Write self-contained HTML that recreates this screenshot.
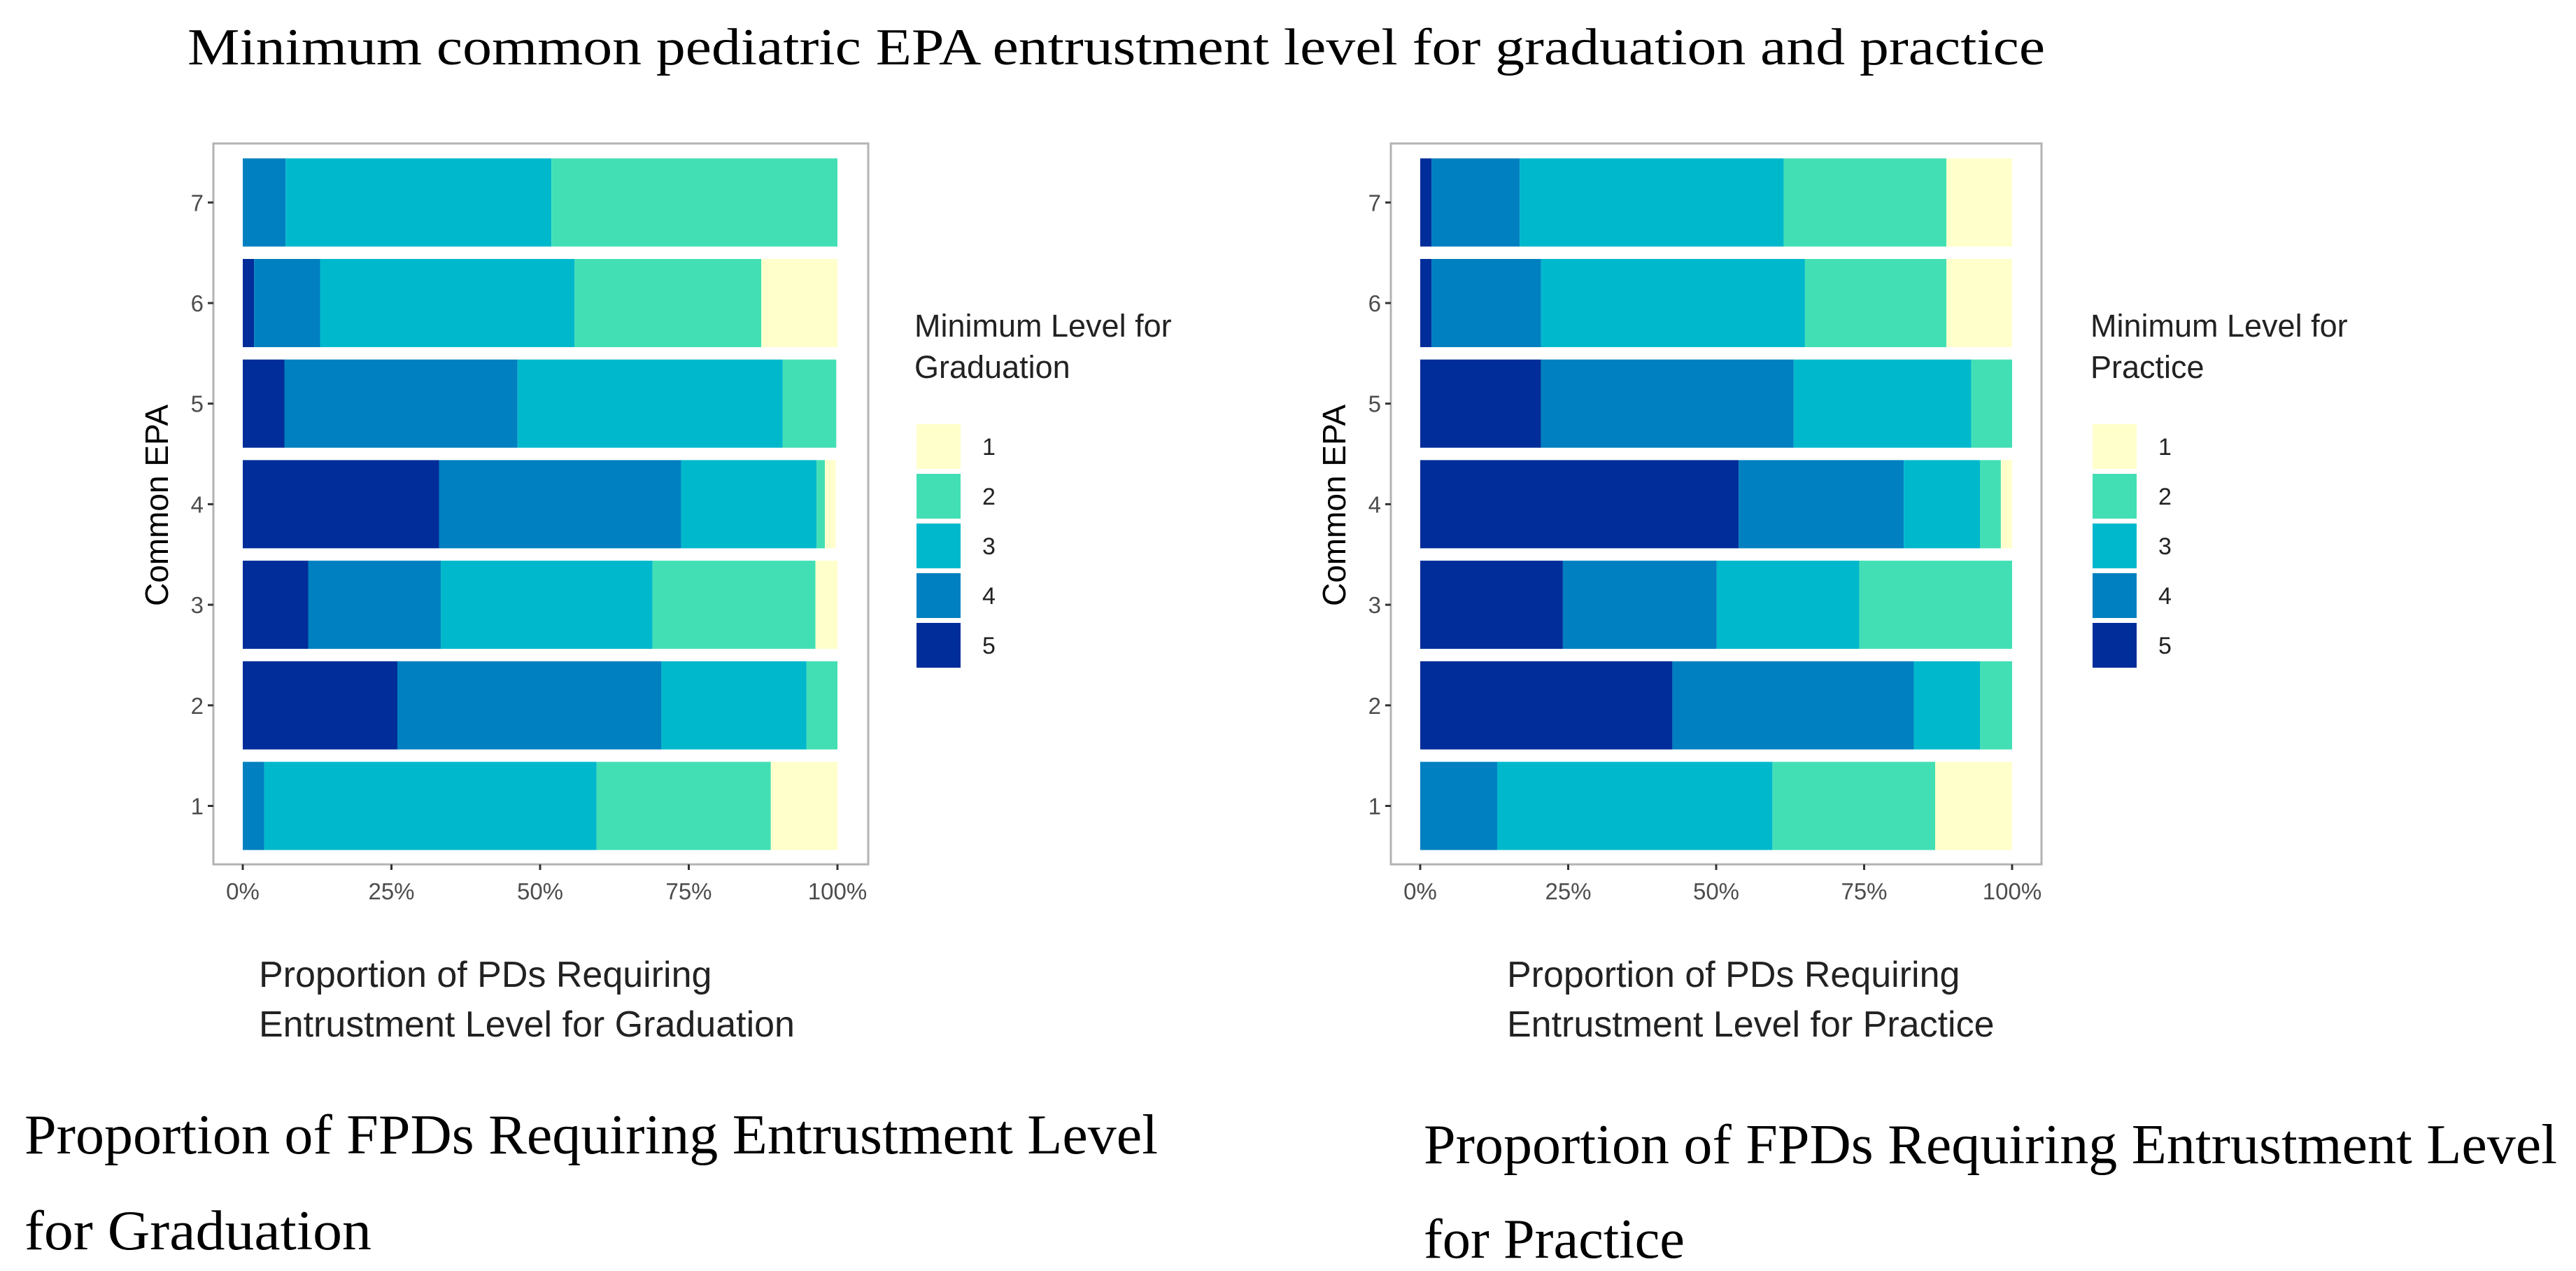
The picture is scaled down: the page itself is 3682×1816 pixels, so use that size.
<!DOCTYPE html>
<html><head><meta charset="utf-8">
<style>html,body{margin:0;padding:0;background:#fff}svg{display:block}</style></head>
<body>
<svg id="fig" width="3682" height="1816" viewBox="0 0 3682 1816" xmlns="http://www.w3.org/2000/svg">
<text x="268" y="92" font-family="Liberation Serif, serif" font-size="74" fill="#000" textLength="2655" lengthAdjust="spacingAndGlyphs">Minimum common pediatric EPA entrustment level for graduation and practice</text>
<g id="left"></g>
<g id="right"></g>
<text x="35" y="1648" font-family="Liberation Serif, serif" font-size="80" fill="#000" textLength="1620" lengthAdjust="spacingAndGlyphs">Proportion of FPDs Requiring Entrustment Level</text>
<text x="35" y="1785" font-family="Liberation Serif, serif" font-size="80" fill="#000" textLength="496" lengthAdjust="spacingAndGlyphs">for Graduation</text>
<text x="2035" y="1662" font-family="Liberation Serif, serif" font-size="80" fill="#000" textLength="1620" lengthAdjust="spacingAndGlyphs">Proportion of FPDs Requiring Entrustment Level</text>
<text x="2035" y="1797" font-family="Liberation Serif, serif" font-size="80" fill="#000" textLength="373" lengthAdjust="spacingAndGlyphs">for Practice</text>
</svg>
<script>
const categories = ["1","2","3","4","5","6","7"];
const levels = ["5","4","3","2","1"];
const xTicks = [0,25,50,75,100];
const xTickLabels = ["0%","25%","50%","75%","100%"];
const legendLevels = ["1","2","3","4","5"];
const colors = {"1":"#ffffcc","2":"#43dfb4","3":"#00b8cc","4":"#0080c0","5":"#002d9a"};
// Graduation (EPA 1..7)
const gradL5 = [0,26,11,33,7,1.9,0];
const gradL4 = [3.6,44.4,22.3,40.7,39.2,11.1,7.2];
const gradL3 = [55.9,24.4,35.6,22.8,44.6,42.8,44.7];
const gradL2 = [29.3,5.2,27.4,1.4,9,31.4,48.1];
const gradL1 = [11.2,0,3.7,1.8,0,12.8,0];
// Practice (EPA 1..7)
const pracL5 = [0,42.6,24.1,53.8,20.4,1.9,1.9];
const pracL4 = [13,40.8,26,27.9,42.7,18.5,14.9];
const pracL3 = [46.5,11.2,24.1,12.9,30,44.6,44.6];
const pracL2 = [27.5,5.4,25.8,3.5,6.9,23.9,27.5];
const pracL1 = [13,0,0,1.9,0,11.1,11.1];

const NS="http://www.w3.org/2000/svg";
function mk(parent,tag,attrs,text){const e=document.createElementNS(NS,tag);for(const k in attrs)e.setAttribute(k,attrs[k]);if(text!==undefined)e.textContent=text;parent.appendChild(e);return e;}

function drawChart(g,cfg,series,legendTitle,xTitle){
  const {boxL,boxR,x0,x1,legX,ylabX,xtitleX}=cfg;
  const boxT=205,boxB=1235;
  const xs=v=>x0+(x1-x0)*v/100;
  const yc=i=>1151.5-i*143.7;
  const bh=126;
  const box=mk(g,'rect',{x:boxL,y:boxT,width:boxR-boxL,height:boxB-boxT,fill:'#fff',stroke:'#b3b3b3','stroke-width':3});
  
  
  categories.forEach((c,i)=>{
    let cum=0;
    levels.forEach((lv,j)=>{
      const v=series[j][i];
      if(v>0){
        const r=mk(g,'rect',{x:xs(cum),y:yc(i)-bh/2,width:xs(cum+v)-xs(cum),height:bh,fill:colors[lv]});
        
        
      }
      cum+=v;
    });
    const t=mk(g,'line',{x1:boxL-8,x2:boxL,y1:yc(i),y2:yc(i),stroke:'#333','stroke-width':3});
    
    
    const tl=mk(g,'text',{x:boxL-14,y:yc(i)+12,'text-anchor':'end','font-family':'Liberation Sans, sans-serif','font-size':33,fill:'#4d4d4d'},c);
    
    
  });
  xTicks.forEach((v,k)=>{
    const t=mk(g,'line',{x1:xs(v),x2:xs(v),y1:boxB,y2:boxB+8,stroke:'#333','stroke-width':3});
    
    
    const tl=mk(g,'text',{x:xs(v),y:boxB+50,'text-anchor':'middle','font-family':'Liberation Sans, sans-serif','font-size':33,fill:'#4d4d4d'},xTickLabels[k]);
    
    
  });
  const yt=mk(g,'text',{x:ylabX,y:722,'text-anchor':'middle','font-family':'Liberation Sans, sans-serif','font-size':46,fill:'#000',transform:'rotate(-90 '+ylabX+' 722)'},'Common EPA');
  
  
  const xt1=mk(g,'text',{x:xtitleX,y:1410,'font-family':'Liberation Sans, sans-serif','font-size':52,fill:'#222'},'Proportion of PDs Requiring');
  
  
  const xt2=mk(g,'text',{x:xtitleX,y:1481,'font-family':'Liberation Sans, sans-serif','font-size':52,fill:'#222'},xTitle);
  
  
  const lt1=mk(g,'text',{x:legX,y:481,'font-family':'Liberation Sans, sans-serif','font-size':45,fill:'#222'},'Minimum Level for');
  
  
  const lt2=mk(g,'text',{x:legX,y:540,'font-family':'Liberation Sans, sans-serif','font-size':45,fill:'#222'},legendTitle);
  
  
  legendLevels.forEach((lv,k)=>{
    const ky=606+k*71;
    const r=mk(g,'rect',{x:legX+3,y:ky,width:63,height:64,fill:colors[lv]});
    
    
    const tl=mk(g,'text',{x:legX+97,y:ky+44,'font-family':'Liberation Sans, sans-serif','font-size':34,fill:'#222'},lv);
    
    
  });
}
drawChart(document.getElementById('left'),{boxL:305,boxR:1241,x0:347,x1:1197,legX:1307,ylabX:240,xtitleX:370},
  [gradL5,gradL4,gradL3,gradL2,gradL1],'Graduation','Entrustment Level for Graduation');
drawChart(document.getElementById('right'),{boxL:1988,boxR:2918,x0:2030,x1:2876,legX:2988,ylabX:1923,xtitleX:2154},
  [pracL5,pracL4,pracL3,pracL2,pracL1],'Practice','Entrustment Level for Practice');
</script>
</body></html>
